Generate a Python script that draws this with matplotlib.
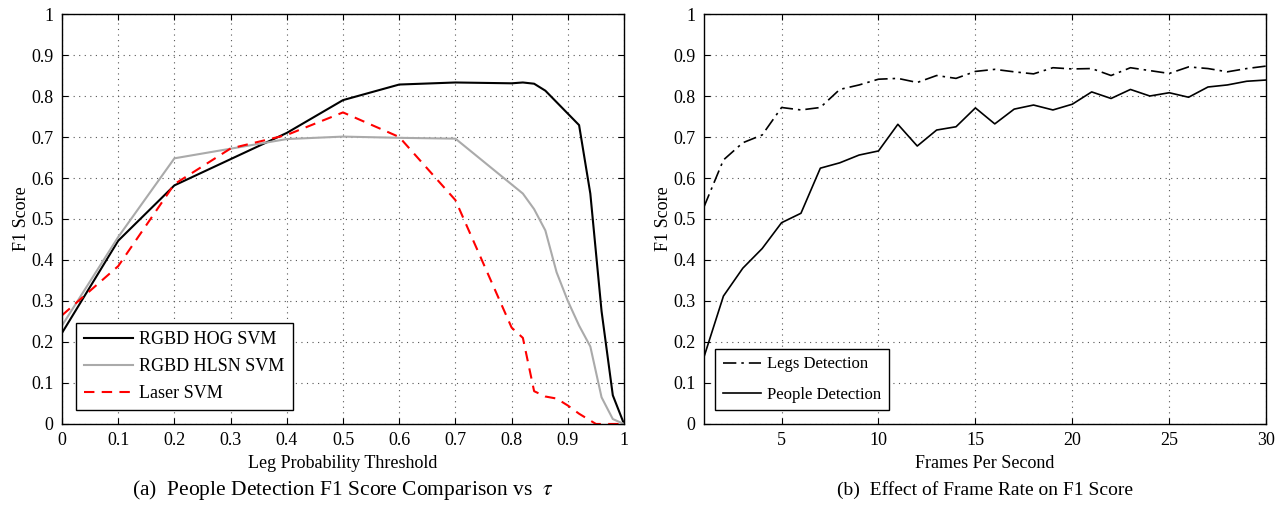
import numpy as np
import matplotlib.pyplot as plt

plt.rcParams['font.family'] = ['Liberation Serif', 'DejaVu Serif']
plt.rcParams['mathtext.fontset'] = 'stix'

# (a) F1 score vs threshold tau
hog_x = [0, 0.1, 0.2, 0.4, 0.5, 0.6, 0.7, 0.8, 0.82, 0.84, 0.86, 0.92, 0.94, 0.96, 0.98, 1.0]
hog_y = [0.222, 0.447, 0.582, 0.71, 0.79, 0.828, 0.833, 0.831, 0.833, 0.83, 0.813, 0.729, 0.562, 0.275, 0.07, 0.0]

hlsn_x = [0, 0.1, 0.2, 0.4, 0.5, 0.6, 0.7, 0.82, 0.84, 0.86, 0.88, 0.9, 0.92, 0.94, 0.96, 0.98, 1.0]
hlsn_y = [0.24, 0.456, 0.648, 0.695, 0.701, 0.698, 0.696, 0.562, 0.524, 0.472, 0.37, 0.3, 0.24, 0.189, 0.065, 0.012, 0.0]

laser_x = [0, 0.1, 0.2, 0.3, 0.4, 0.5, 0.6, 0.7, 0.8, 0.82, 0.84, 0.86, 0.88, 0.9, 0.92, 0.95, 1.0]
laser_y = [0.265, 0.385, 0.585, 0.672, 0.705, 0.76, 0.70, 0.546, 0.235, 0.21, 0.08, 0.067, 0.062, 0.045, 0.025, 0.0, 0.0]

# (b) F1 score vs frame rate
fps = list(range(1, 31))
legs_f1 = [0.53, 0.644, 0.686, 0.705, 0.772, 0.766, 0.772, 0.816, 0.827, 0.841,
           0.843, 0.833, 0.85, 0.843, 0.86, 0.865, 0.859, 0.854, 0.869, 0.866,
           0.867, 0.85, 0.869, 0.862, 0.855, 0.871, 0.867, 0.859, 0.867, 0.873]
people_f1 = [0.164, 0.312, 0.38, 0.428, 0.491, 0.514, 0.624, 0.637, 0.656, 0.666,
             0.731, 0.678, 0.717, 0.725, 0.771, 0.732, 0.768, 0.778, 0.766, 0.78,
             0.81, 0.794, 0.816, 0.8, 0.808, 0.797, 0.822, 0.827, 0.836, 0.839]

fig = plt.figure(figsize=(12.78, 5.08), dpi=100)
ax1 = fig.add_axes([0.0485, 0.1654, 0.4398, 0.807])
ax2 = fig.add_axes([0.5509, 0.1654, 0.4398, 0.807])


def style(ax):
    ax.grid(True, linestyle=(0, (1, 4)), color='#555555', linewidth=0.8)
    ax.tick_params(direction='in', top=True, right=True, labelsize=13, length=4, pad=6)
    for s in ax.spines.values():
        s.set_linewidth(1.0)
    ax.set_ylim(0, 1)
    ax.set_yticks(np.arange(0, 1.01, 0.1))
    ax.set_yticklabels(['0', '0.1', '0.2', '0.3', '0.4', '0.5', '0.6', '0.7', '0.8', '0.9', '1'])
    ax.set_ylabel('F1 Score', fontsize=13, labelpad=1)


def legend(ax, anchor, size, hlen, spacing):
    leg = ax.legend(loc='lower left', fontsize=size, fancybox=False, edgecolor='black',
                    framealpha=1, handlelength=hlen, handletextpad=0.35,
                    borderpad=0.45, labelspacing=spacing, borderaxespad=0,
                    bbox_to_anchor=anchor)
    leg.get_frame().set_linewidth(1.0)


ax1.plot(hog_x, hog_y, color='black', lw=1.5, label='RGBD HOG SVM')
ax1.plot(hlsn_x, hlsn_y, color='#aaaaaa', lw=1.5, label='RGBD HLSN SVM')
ax1.plot(laser_x, laser_y, color='red', lw=1.5, dashes=(5, 3.5), label='Laser SVM')
style(ax1)
ax1.set_xlim(0, 1)
ax1.set_xticks(np.arange(0, 1.01, 0.1))
ax1.set_xticklabels(['0', '0.1', '0.2', '0.3', '0.4', '0.5', '0.6', '0.7', '0.8', '0.9', '1'])
ax1.set_xlabel('Leg Probability Threshold', fontsize=13, labelpad=4)
legend(ax1, (0.025, 0.034), 13, 2.7, 0.55)

ax2.plot(fps, legs_f1, color='black', lw=1.2, linestyle='-.', dashes=(8, 3, 1.5, 3), label='Legs Detection')
ax2.plot(fps, people_f1, color='black', lw=1.2, label='People Detection')
style(ax2)
ax2.set_xlim(1, 30)
ax2.set_xticks([5, 10, 15, 20, 25, 30])
ax2.set_xlabel('Frames Per Second', fontsize=13, labelpad=4)
legend(ax2, (0.02, 0.034), 12, 2.3, 0.85)

fig.text(0.2684, 0.035, r'(a)  People Detection F1 Score Comparison vs  $\tau$',
         ha='center', va='center', fontsize=15.5)
fig.text(0.7708, 0.035, '(b)  Effect of Frame Rate on F1 Score',
         ha='center', va='center', fontsize=14)

fig.savefig('out.png', dpi=100)
